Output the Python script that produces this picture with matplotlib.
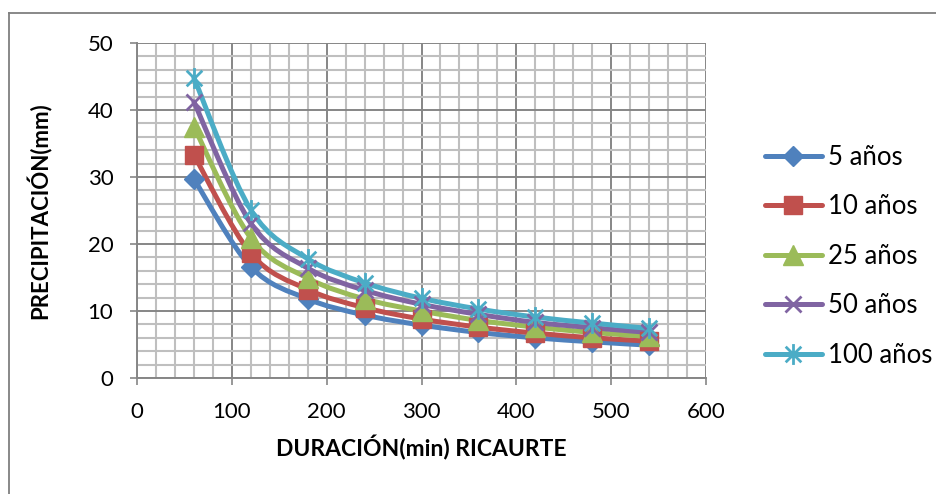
import matplotlib.pyplot as plt
from matplotlib.path import Path
from matplotlib.patches import PathPatch
from matplotlib.lines import Line2D
from matplotlib.ticker import MultipleLocator

plt.rcParams['font.family'] = ['Lato', 'DejaVu Sans']

# Datos
duracion = [60, 120, 180, 240, 300, 360, 420, 480, 540]
p_5 = [29.7, 16.6, 11.8, 9.4, 7.9, 6.8, 6.0, 5.4, 4.9]
p_10 = [33.3, 18.6, 13.2, 10.5, 8.8, 7.6, 6.7, 6.0, 5.5]
p_25 = [37.5, 20.9, 14.9, 11.8, 10.0, 8.6, 7.6, 6.8, 6.2]
p_50 = [41.2, 23.1, 16.4, 13.1, 11.0, 9.5, 8.3, 7.5, 6.8]
p_100 = [44.8, 25.1, 17.8, 14.2, 11.9, 10.3, 9.1, 8.2, 7.4]
etiquetas = ['5 años', '10 años', '25 años', '50 años', '100 años']

# Marcador asterisco estilo Excel (x + linea vertical)
asterisco = Path(
    [(0, -1), (0, 1), (-0.75, -0.75), (0.75, 0.75), (-0.75, 0.75), (0.75, -0.75)],
    [Path.MOVETO, Path.LINETO, Path.MOVETO, Path.LINETO, Path.MOVETO, Path.LINETO],
)

estilos = [
    dict(color='#4F81BD', marker='D', ms=10),
    dict(color='#C0504D', marker='s', ms=13),
    dict(color='#9BBB59', marker='^', ms=14),
    dict(color='#8064A2', marker='x', ms=12, mew=2),
    dict(color='#4BACC6', marker=asterisco, ms=15, mew=2),
]


def curva_suave(xs, ys):
    """Linea suavizada tipo Excel (Bezier cubica por los puntos)."""
    pts = list(zip(xs, ys))
    verts = [pts[0]]
    codes = [Path.MOVETO]
    n = len(pts)
    for i in range(n - 1):
        p0 = pts[max(i - 1, 0)]
        p1 = pts[i]
        p2 = pts[i + 1]
        p3 = pts[min(i + 2, n - 1)]
        c1 = (p1[0] + (p2[0] - p0[0]) / 6, p1[1] + (p2[1] - p0[1]) / 6)
        c2 = (p2[0] - (p3[0] - p1[0]) / 6, p2[1] - (p3[1] - p1[1]) / 6)
        verts += [c1, c2, p2]
        codes += [Path.CURVE4] * 3
    return Path(verts, codes)


fig = plt.figure(figsize=(9.37, 4.94), dpi=100)
ax = fig.add_axes([0.1462, 0.2348, 0.6073, 0.6782])

series = [p_5, p_10, p_25, p_50, p_100]
manijas = []
for datos, etiqueta, est in zip(series, etiquetas, estilos):
    ax.add_patch(PathPatch(curva_suave(duracion, datos), fill=False,
                           edgecolor=est['color'], lw=3.6, capstyle='round',
                           joinstyle='round', zorder=2))
    ax.plot(duracion, datos, ls='none', zorder=3, **est)
    manijas.append(Line2D([], [], lw=3.6, solid_capstyle='round', label=etiqueta, **est))

ax.set_xlim(0, 600)
ax.set_ylim(0, 50)
ax.xaxis.set_major_locator(MultipleLocator(100))
ax.xaxis.set_minor_locator(MultipleLocator(20))
ax.yaxis.set_major_locator(MultipleLocator(10))
ax.yaxis.set_minor_locator(MultipleLocator(2))
ax.grid(which='minor', color='#BFBFBF', lw=1.5, zorder=0)
ax.grid(which='major', color='#868686', lw=1.4, zorder=0)
ax.set_axisbelow(True)
ax.tick_params(which='minor', length=0)
ax.tick_params(which='major', length=5, width=1.2, color='#868686',
               labelsize=16, pad=12)
for lado in ['top', 'right']:
    ax.spines[lado].set_visible(False)
for lado in ['left', 'bottom']:
    ax.spines[lado].set_color('#868686')
    ax.spines[lado].set_linewidth(1.4)

ax.set_xlabel('DURACIÓN(min) RICAURTE', fontsize=16.5, fontweight='bold', labelpad=10)
ax.set_ylabel('PRECIPITACIÓN(mm)', fontsize=16, fontweight='bold', labelpad=26)

fig.legend(handles=manijas, loc='center left', bbox_to_anchor=(765 / 937, 0.481),
           frameon=False, fontsize=18.5, handlelength=2.2, handletextpad=0.25,
           labelspacing=0.95, borderpad=0, borderaxespad=0)

# Borde del area del grafico (solo arriba e izquierda visibles)
fig.add_artist(Line2D([0.0096, 1.0], [0.9737, 0.9737], color='#7F7F7F', lw=1.3))
fig.add_artist(Line2D([0.0096, 0.0096], [0.0, 0.9737], color='#7F7F7F', lw=1.3))

fig.savefig('out.png', dpi=100)
